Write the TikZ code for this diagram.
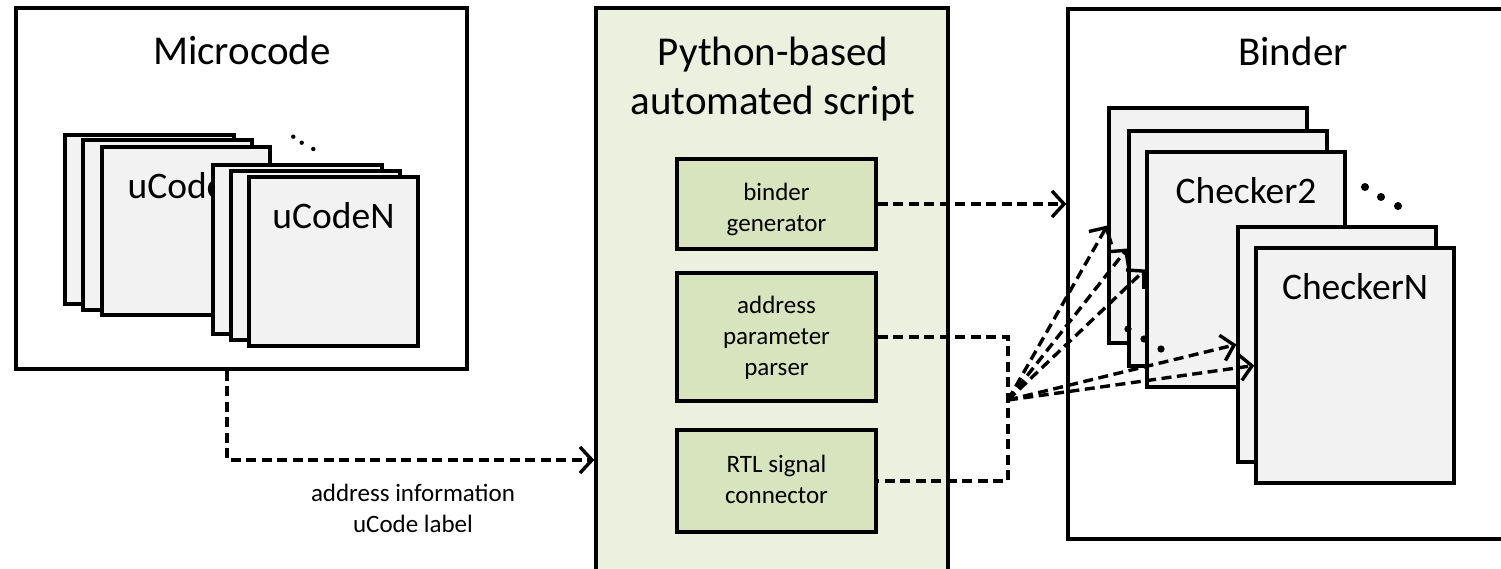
\documentclass[tikz,border=0pt]{standalone}
\usepackage{fontspec}
\setmainfont{Carlito}
\usetikzlibrary{arrows.meta,calc}
\definecolor{cardfill}{HTML}{F2F2F2}
\definecolor{pyfill}{HTML}{EBF1DE}
\definecolor{modfill}{HTML}{D7E4BD}
\newcommand\titlesize{\fontsize{41}{49}\selectfont}
\newcommand\cardsize{\fontsize{37.5}{44}\selectfont}
\newcommand\smallsize{\fontsize{25}{30.7}\selectfont}
\begin{document}
\begin{tikzpicture}[x=1pt,y=-1pt,
  frame/.style={draw, line width=3.4pt, fill=white, inner sep=0pt},
  card/.style={draw, line width=3.4pt, fill=cardfill, inner sep=0pt},
  pybox/.style={draw, line width=3.4pt, fill=pyfill, inner sep=0pt},
  module/.style={draw, line width=3.4pt, fill=modfill, inner sep=0pt, minimum width=199pt},
  modtext/.style={font=\smallsize, anchor=base, inner sep=0pt, align=center},
  title/.style={font=\titlesize, anchor=base, inner sep=0pt, align=center},
  cardtext/.style={font=\cardsize, anchor=base, inner sep=0pt},
  dline/.style={line width=3.4pt, dash pattern=on 10pt off 5.5pt},
  conn/.style={dline, -{Straight Barb[length=12pt,width=26pt]}},
]
\useasboundingbox (0,0) rectangle (1501,568);
\clip (0,0) rectangle (1501,568);

% outer containers
\node[frame, minimum width=451pt, minimum height=361pt] (micro) at (241.5,188.5) {};
\node[pybox, minimum width=352pt, minimum height=592pt] (py) at (772,304) {};
\node[frame, minimum width=452pt, minimum height=530pt] (binder) at (1294,274) {};

% titles (anchor base = baseline of the last line)
\node[title] (microT) at (242,64) {Microcode};
\node[title] (pyT) at (773,114) {Python-based\\automated script};
\node[title] (binderT) at (1293,65) {Binder};

% microcode pages, first stack
\node[card, minimum width=169pt, minimum height=169pt] (u1a) at (149.5,219.5) {};
\node[card, minimum width=169pt, minimum height=170pt] (u1b) at (167.5,225) {};
\node[card, minimum width=168pt, minimum height=168pt] (u1c) at (186,231) {};
\node[cardtext] (u1t) at ([yshift=-53pt]u1c.north) {uCode1};
% microcode pages, last stack
\node[card, minimum width=169pt, minimum height=169pt] (uNa) at (297.5,249.5) {};
\node[card, minimum width=169pt, minimum height=169pt] (uNb) at (315.5,255.5) {};
\node[card, minimum width=169pt, minimum height=169pt] (uNc) at (333.5,261.5) {};
\node[cardtext] (uNt) at ([yshift=-53pt]uNc.north) {uCodeN};
\fill (293.3,136.7) circle[radius=2.2pt] (301.7,142.7) circle[radius=2.2pt] (313.3,149) circle[radius=2.2pt];

% script modules
\node[module, minimum height=90pt] (bg) at (776.5,204) {};
\node[modtext] (bgT) at ([yshift=-27pt]bg.center) {binder\\generator};
\node[module, minimum height=128pt] (app) at (776.5,337) {};
\node[modtext] (appT) at ([yshift=-38pt]app.center) {address\\parameter\\parser};
\node[module, minimum height=102pt] (rtl) at (776.5,481) {};
\node[modtext] (rtlT) at ([yshift=-22.5pt]rtl.center) {RTL signal\\connector};

% checker pages, first stack
\node[card, minimum width=198pt, minimum height=235pt] (c1a) at (1208,225.5) {};
\node[card, minimum width=198pt, minimum height=235pt] (c1b) at (1228,248.5) {};
\node[card, minimum width=198pt, minimum height=235pt] (c1c) at (1246,269.5) {};
\node[cardtext] (c1t) at ([yshift=-53pt]c1c.north) {Checker2};
\fill (1365,187) circle[radius=4pt] (1381,197) circle[radius=4pt] (1398,206) circle[radius=4pt];
\fill (1128,329) circle[radius=3.6pt] (1144,339) circle[radius=3.6pt] (1161,349) circle[radius=3.6pt];
% checker pages, last stack
\node[card, minimum width=198pt, minimum height=235pt] (cNa) at (1337,344.5) {};
\node[card, minimum width=198pt, minimum height=235pt] (cNb) at (1355,365.5) {};
\node[cardtext] (cNt) at ([yshift=-53pt]cNb.north) {CheckerN};

% connectors
\coordinate (mdrop) at (227,0);
\coordinate (pin) at (0,460);
\coordinate (fan) at (1008,400);
\draw[conn] (micro.south -| mdrop) |- (py.west |- pin);
\node[font=\smallsize, align=center, inner sep=0pt, anchor=base] (addrL) at (413,532) {address information\\uCode label};
\draw[conn] (bg.east) -- (bg.east -| binder.west);
\draw[dline] (app.east) -| (fan) |- (rtl.east);
\foreach \t in {c1a,c1b,c1c,cNa,cNb}
  \draw[conn] (fan) -- (\t.west);
\end{tikzpicture}
\end{document}
